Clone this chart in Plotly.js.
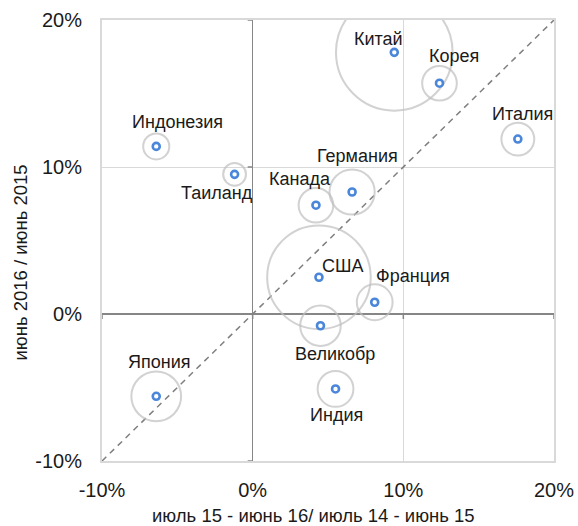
<!DOCTYPE html>
<html>
<head>
<meta charset="utf-8">
<script src="https://cdn.plot.ly/plotly-3.0.1.min.js"></script>
<style>html,body{margin:0;padding:0;background:#fff;}#chart{width:578px;height:526px;}</style>
</head>
<body>
<div id="chart"></div>
<script>
// ---- data ----
const countries = ['Индонезия','Таиланд','Китай','Корея','Италия','Германия','Канада','США','Франция','Великобр','Индия','Япония'];
const growthPrev = [-6.4, -1.2, 9.4, 12.4, 17.6, 6.6, 4.2, 4.4, 8.1, 4.5, 5.5, -6.4];   // x, %
const growthCur  = [11.4, 9.5, 17.8, 15.7, 11.9, 8.3, 7.4, 2.5, 0.8, -0.8, -5.1, -5.6]; // y, %
const weights    = [1.7, 1.3, 34.0, 3.0, 2.7, 5.1, 3.0, 26.8, 3.2, 4.1, 3.2, 6.2];     // bubble size
const tickVals   = [-10, 0, 10, 20];
const tickLabels = ['-10%', '0%', '10%', '20%'];
const diagonal   = [-10, 20];
const xTitle = 'июль 15 - июнь 16/ июль 14 - июнь 15';
const yTitle = 'июнь 2016 / июнь 2015';

// ---- label placement (pixel offsets, style only) ----
const labelShift = {
  'Индонезия': [21, 24], 'Таиланд': [-18, -19], 'Китай': [-16, 13], 'Корея': [15, 27],
  'Италия': [5, 25], 'Германия': [5, 36], 'Канада': [-16, 26], 'США': [24, 11],
  'Франция': [38, 26], 'Великобр': [15, -28], 'Индия': [1, -26], 'Япония': [3, 34]
};

const FONT = 'Liberation Sans, Arial, sans-serif';

const traces = [
  {
    x: diagonal, y: diagonal, mode: 'lines', type: 'scatter',
    line: {color: '#7f7f7f', width: 1.5, dash: '6px,5px'}, hoverinfo: 'skip'
  },
  {
    x: growthPrev, y: growthCur, mode: 'markers', type: 'scatter',
    marker: {size: weights, sizemode: 'area', sizeref: 0.005, color: 'rgba(0,0,0,0)',
             line: {color: '#bfbfbf', width: 2}},
    hoverinfo: 'skip'
  },
  {
    x: growthPrev, y: growthCur, mode: 'markers', type: 'scatter',
    marker: {size: 7, color: '#ffffff', line: {color: '#4a86d9', width: 2.6}},
    hoverinfo: 'skip'
  }
];

const annotations = countries.map((c, i) => ({
  x: growthPrev[i], y: growthCur[i], xref: 'x', yref: 'y', text: c, showarrow: false,
  xshift: labelShift[c][0], yshift: labelShift[c][1],
  font: {family: FONT, size: 18, color: '#1a1a1a'}
}));
annotations.push({
  xref: 'paper', yref: 'paper', x: 0.467, y: 0, yshift: -54, yanchor: 'middle',
  text: xTitle, showarrow: false,
  font: {family: FONT, size: 18.5, color: '#1a1a1a'}
});
annotations.push({
  xref: 'paper', yref: 'paper', x: 0, xshift: -82, y: 0.5, yshift: -22, xanchor: 'center', yanchor: 'middle',
  text: yTitle, showarrow: false, textangle: -90,
  font: {family: FONT, size: 18.5, color: '#1a1a1a'}
});

const shapes = [];
tickVals.forEach(v => {
  shapes.push({type: 'line', xref: 'x', yref: 'y', xsizemode: 'pixel', xanchor: 0,
    x0: -5, x1: 0, y0: v, y1: v, line: {color: '#868686', width: 1.5}, layer: 'above'});
  shapes.push({type: 'line', xref: 'x', yref: 'y', ysizemode: 'pixel', yanchor: 0,
    y0: -5, y1: 0, x0: v, x1: v, line: {color: '#868686', width: 1.5}, layer: 'above'});
});

const layout = {
  width: 578, height: 526,
  margin: {l: 102, r: 24, t: 20, b: 65},
  paper_bgcolor: '#ffffff', plot_bgcolor: '#ffffff',
  showlegend: false, hovermode: false,
  font: {family: FONT, color: '#1a1a1a'},
  xaxis: {
    range: [-10, 20], tickvals: tickVals, ticktext: tickLabels,
    tickfont: {family: FONT, size: 20, color: '#1a1a1a'},
    showgrid: true, gridcolor: '#d9d9d9', gridwidth: 1,
    zeroline: true, zerolinecolor: '#868686', zerolinewidth: 1.5,
    showline: true, mirror: true, linecolor: '#d9d9d9', linewidth: 2,
    ticks: '', ticklabelstandoff: 10, fixedrange: true
  },
  yaxis: {
    range: [-10, 20], tickvals: tickVals, ticktext: tickLabels,
    tickfont: {family: FONT, size: 20, color: '#1a1a1a'},
    showgrid: true, gridcolor: '#d9d9d9', gridwidth: 1,
    zeroline: true, zerolinecolor: '#868686', zerolinewidth: 1.5,
    showline: true, mirror: true, linecolor: '#d9d9d9', linewidth: 2,
    ticks: '', ticklabelstandoff: 14, fixedrange: true
  },
  annotations: annotations,
  shapes: shapes
};

Plotly.newPlot('chart', traces, layout, {displayModeBar: false, staticPlot: true});
</script>
</body>
</html>
